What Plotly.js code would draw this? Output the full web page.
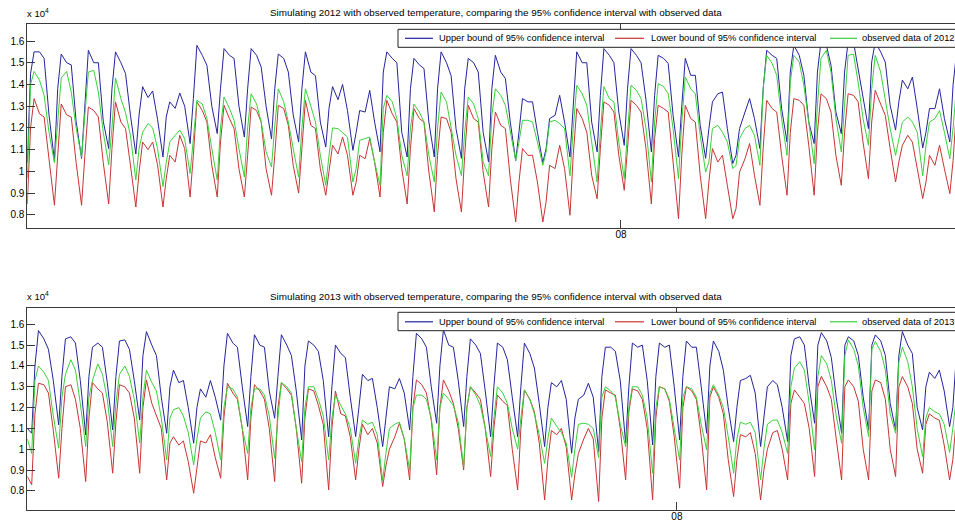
<!DOCTYPE html>
<html><head><meta charset="utf-8">
<script src="https://cdn.plot.ly/plotly-3.0.1.min.js"></script>
<style>html,body{margin:0;padding:0;background:#fff}#chart{width:955px;height:522px}</style>
</head><body><div id="chart"></div>
<script>
// Time in days; each day sampled at these phases (trough at phase 0)
const dayPhases = [0, 0.12, 0.25, 0.45, 0.62, 0.8];
const nDays = 34;
const tail2012 = [34, 34.12, 34.25];
const lead2013 = [-0.163];
const tail2013 = [34, 34.12, 34.25];

// values in units of 10^4
const upper2012 = [
1.04,1.45,1.55,1.55,1.52,1.26,
1.05,1.38,1.54,1.50,1.49,1.23,
1.06,1.30,1.557,1.50,1.50,1.23,
1.105,1.38,1.55,1.50,1.45,1.26,
1.08,1.26,1.39,1.34,1.37,1.24,
1.066,1.25,1.32,1.29,1.36,1.30,
1.128,1.335,1.58,1.534,1.488,1.30,
1.174,1.38,1.565,1.534,1.52,1.30,
1.158,1.38,1.565,1.534,1.48,1.30,
1.15,1.38,1.54,1.52,1.457,1.26,
1.135,1.38,1.55,1.457,1.44,1.227,
1.112,1.29,1.39,1.33,1.40,1.28,
1.097,1.18,1.28,1.273,1.373,1.227,
1.09,1.457,1.55,1.52,1.50,1.18,
1.066,1.38,1.52,1.49,1.473,1.227,
1.066,1.38,1.55,1.50,1.44,1.197,
1.06,1.38,1.52,1.50,1.457,1.18,
1.043,1.38,1.534,1.457,1.427,1.227,
1.05,1.18,1.335,1.32,1.32,1.18,
1.04,1.105,1.243,1.258,1.35,1.227,
1.066,1.30,1.55,1.50,1.50,1.227,
1.09,1.35,1.565,1.534,1.50,1.273,
1.12,1.38,1.565,1.534,1.50,1.33,
1.09,1.35,1.534,1.52,1.497,1.258,
1.066,1.30,1.52,1.442,1.442,1.212,
1.06,1.197,1.32,1.357,1.365,1.197,
1.036,1.074,1.197,1.273,1.335,1.243,
1.105,1.38,1.557,1.534,1.52,1.289,
1.135,1.457,1.58,1.534,1.442,1.227,
1.128,1.457,1.595,1.58,1.488,1.273,
1.174,1.457,1.595,1.595,1.473,1.335,
1.197,1.503,1.595,1.55,1.503,1.304,
1.19,1.32,1.42,1.38,1.434,1.289,
1.108,1.18,1.289,1.289,1.38,1.243,
1.135,1.40,1.55];

const lower2012 = [
0.85,1.20,1.335,1.265,1.25,1.07,
0.844,1.07,1.31,1.26,1.25,1.04,
0.844,1.07,1.296,1.28,1.25,1.04,
0.85,1.105,1.32,1.227,1.197,1.03,
0.836,0.997,1.135,1.10,1.135,1.03,
0.836,0.966,1.074,1.043,1.166,1.105,
0.882,1.074,1.32,1.28,1.227,1.028,
0.882,1.135,1.304,1.243,1.197,1.012,
0.882,1.074,1.296,1.28,1.227,1.012,
0.89,1.074,1.304,1.289,1.212,1.028,
0.90,1.105,1.327,1.212,1.197,1.012,
0.89,1.0,1.12,1.08,1.158,1.074,
0.89,0.951,1.074,1.058,1.151,1.043,
0.882,1.18,1.327,1.265,1.227,1.012,
0.85,1.105,1.289,1.243,1.227,0.997,
0.813,1.074,1.25,1.243,1.18,0.966,
0.813,1.074,1.304,1.243,1.227,0.997,
0.836,1.105,1.273,1.212,1.197,0.966,
0.767,0.951,1.105,1.074,1.074,0.951,
0.767,0.86,1.028,1.013,1.12,1.013,
0.798,1.074,1.289,1.243,1.18,0.982,
0.874,1.105,1.32,1.304,1.273,1.074,
0.913,1.105,1.327,1.304,1.273,1.105,
0.85,1.151,1.304,1.289,1.273,1.043,
0.782,1.074,1.304,1.243,1.227,0.982,
0.782,0.951,1.105,1.043,1.074,0.936,
0.782,0.829,0.997,1.058,1.128,0.982,
0.844,1.105,1.327,1.289,1.273,1.074,
0.89,1.18,1.335,1.327,1.304,1.12,
0.89,1.18,1.357,1.335,1.273,1.074,
0.936,1.18,1.357,1.35,1.32,1.135,
0.966,1.227,1.373,1.31,1.258,1.105,
0.951,1.043,1.12,1.166,1.135,1.012,
0.875,0.951,1.074,1.028,1.12,1.012,
0.898,1.05,1.30];

const observed2012 = [
0.97,1.40,1.46,1.42,1.35,1.18,
1.04,1.23,1.43,1.46,1.365,1.20,
1.066,1.26,1.457,1.465,1.365,1.18,
1.03,1.20,1.43,1.335,1.27,1.166,
0.96,1.105,1.18,1.22,1.20,1.105,
0.93,1.04,1.135,1.166,1.19,1.15,
0.99,1.15,1.327,1.31,1.243,1.105,
0.96,1.20,1.342,1.29,1.235,1.105,
0.974,1.20,1.357,1.31,1.227,1.09,
1.02,1.21,1.38,1.32,1.227,1.105,
0.974,1.20,1.38,1.30,1.227,1.074,
0.936,1.074,1.20,1.197,1.18,1.158,
0.951,1.013,1.143,1.151,1.158,1.043,
0.936,1.29,1.35,1.32,1.243,1.074,
0.98,1.20,1.31,1.273,1.227,1.074,
0.951,1.20,1.365,1.32,1.197,1.074,
0.98,1.18,1.342,1.31,1.243,1.043,
0.98,1.258,1.38,1.35,1.304,1.18,
1.05,1.135,1.235,1.235,1.227,1.135,
1.028,1.09,1.227,1.235,1.22,1.197,
0.98,1.197,1.396,1.357,1.304,1.135,
0.951,1.18,1.39,1.335,1.32,1.135,
0.966,1.18,1.396,1.373,1.335,1.20,
0.951,1.227,1.404,1.39,1.357,1.197,
0.966,1.227,1.434,1.38,1.357,1.166,
0.997,1.043,1.197,1.212,1.18,1.135,
1.013,1.028,1.151,1.197,1.212,1.166,
1.028,1.38,1.534,1.497,1.442,1.243,
1.074,1.41,1.534,1.503,1.396,1.227,
1.036,1.304,1.52,1.557,1.457,1.243,
1.09,1.304,1.534,1.54,1.41,1.243,
1.12,1.38,1.534,1.457,1.335,1.197,
1.074,1.151,1.227,1.25,1.227,1.18,
0.98,1.12,1.227,1.243,1.28,1.18,
1.058,1.20,1.40];

const upper2013 = [1.10,
1.077,1.40,1.57,1.53,1.48,1.33,
1.117,1.35,1.53,1.54,1.51,1.33,
1.069,1.35,1.49,1.51,1.49,1.32,
1.093,1.35,1.52,1.525,1.48,1.33,
1.141,1.45,1.565,1.50,1.45,1.25,
1.077,1.30,1.38,1.32,1.33,1.20,
1.029,1.20,1.29,1.25,1.33,1.25,
1.14,1.40,1.557,1.51,1.49,1.30,
1.109,1.35,1.55,1.50,1.49,1.28,
1.149,1.35,1.55,1.50,1.45,1.28,
1.045,1.40,1.52,1.50,1.47,1.33,
1.06,1.30,1.50,1.46,1.44,1.25,
1.061,1.20,1.36,1.33,1.34,1.20,
1.013,1.15,1.30,1.29,1.34,1.27,
1.093,1.35,1.557,1.53,1.49,1.30,
1.125,1.40,1.573,1.50,1.49,1.33,
1.109,1.35,1.53,1.50,1.46,1.28,
1.06,1.30,1.51,1.49,1.43,1.25,
1.06,1.30,1.51,1.46,1.39,1.22,
1.013,1.20,1.32,1.30,1.33,1.24,
0.981,1.15,1.24,1.26,1.317,1.25,
0.99,1.35,1.49,1.49,1.47,1.33,
1.029,1.30,1.51,1.49,1.50,1.33,
1.021,1.35,1.51,1.49,1.50,1.30,
1.045,1.35,1.52,1.49,1.49,1.30,
1.077,1.40,1.52,1.47,1.38,1.20,
1.037,1.20,1.33,1.34,1.355,1.27,
1.013,1.15,1.30,1.33,1.31,1.20,
1.037,1.45,1.53,1.54,1.50,1.30,
1.125,1.50,1.56,1.52,1.44,1.25,
1.077,1.50,1.54,1.52,1.45,1.25,
1.093,1.50,1.549,1.52,1.45,1.22,
1.093,1.45,1.565,1.50,1.46,1.20,
1.093,1.30,1.37,1.34,1.38,1.28,
1.109,1.20,1.45];

const lower2013 = [0.87,
0.83,1.17,1.317,1.31,1.27,1.09,
0.861,1.10,1.30,1.31,1.24,1.10,
0.845,1.15,1.32,1.29,1.27,1.13,
0.885,1.13,1.31,1.30,1.27,1.15,
0.885,1.20,1.333,1.22,1.16,1.10,
0.853,1.03,1.06,1.02,1.04,0.94,
0.789,0.92,1.04,1.03,1.07,0.96,
0.861,1.15,1.317,1.27,1.24,1.10,
0.853,1.15,1.31,1.28,1.24,1.10,
0.845,1.20,1.32,1.29,1.26,1.10,
0.837,1.15,1.29,1.28,1.21,1.12,
0.805,1.10,1.28,1.17,1.16,1.06,
0.853,1.0,1.12,1.07,1.10,1.03,
0.821,0.92,1.0,1.06,1.125,1.05,
0.853,1.20,1.333,1.31,1.27,1.14,
0.877,1.20,1.333,1.28,1.22,1.10,
0.901,1.20,1.30,1.27,1.24,1.10,
0.869,1.10,1.26,1.23,1.21,1.0,
0.805,1.10,1.285,1.24,1.18,1.03,
0.757,0.95,1.09,1.07,1.10,1.01,
0.757,0.88,0.98,1.05,1.10,1.05,
0.749,1.15,1.285,1.27,1.26,1.10,
0.853,1.18,1.29,1.28,1.24,1.10,
0.757,1.15,1.30,1.29,1.23,1.06,
0.813,1.20,1.30,1.28,1.24,1.06,
0.805,1.25,1.30,1.25,1.17,0.95,
0.773,0.95,1.07,1.06,1.08,0.98,
0.757,0.90,1.0,1.08,1.09,1.0,
0.853,1.22,1.285,1.25,1.22,1.10,
0.869,1.30,1.35,1.30,1.24,1.05,
0.853,1.30,1.333,1.30,1.23,1.0,
0.853,1.28,1.333,1.32,1.24,1.0,
0.869,1.30,1.349,1.30,1.22,1.0,
0.885,1.12,1.17,1.15,1.14,1.02,
0.853,0.95,1.15];

const observed2013 = [1.05,
0.98,1.33,1.40,1.37,1.33,1.16,
1.005,1.25,1.36,1.43,1.38,1.22,
1.013,1.25,1.33,1.41,1.36,1.24,
1.013,1.22,1.36,1.40,1.35,1.24,
1.03,1.25,1.38,1.32,1.28,1.15,
0.949,1.15,1.19,1.20,1.16,1.08,
0.925,1.05,1.15,1.18,1.17,1.08,
0.949,1.20,1.30,1.29,1.25,1.10,
0.98,1.20,1.29,1.29,1.26,1.16,
0.957,1.15,1.32,1.30,1.27,1.10,
0.94,1.20,1.30,1.30,1.24,1.16,
0.949,1.15,1.26,1.21,1.17,1.10,
0.933,1.05,1.14,1.12,1.13,1.07,
0.85,0.98,1.10,1.12,1.13,1.05,
0.90,1.20,1.26,1.26,1.24,1.15,
0.949,1.20,1.27,1.24,1.21,1.13,
0.917,1.20,1.30,1.26,1.21,1.10,
0.965,1.15,1.30,1.27,1.22,1.10,
1.0,1.15,1.285,1.24,1.17,1.07,
0.933,1.05,1.15,1.11,1.08,1.03,
0.865,1.0,1.12,1.125,1.12,1.10,
0.96,1.25,1.30,1.28,1.25,1.12,
1.013,1.20,1.30,1.30,1.26,1.15,
0.885,1.20,1.30,1.29,1.24,1.10,
0.949,1.25,1.30,1.29,1.25,1.12,
0.997,1.27,1.31,1.26,1.20,1.06,
0.885,1.05,1.13,1.12,1.13,1.08,
0.853,1.0,1.12,1.14,1.14,1.08,
0.98,1.30,1.39,1.42,1.38,1.22,
0.997,1.35,1.45,1.41,1.33,1.16,
1.029,1.45,1.525,1.48,1.40,1.20,
1.061,1.48,1.517,1.47,1.38,1.17,
1.077,1.42,1.49,1.42,1.30,1.10,
0.965,1.15,1.20,1.18,1.17,1.12,
0.985,1.10,1.25];

const yTickVals = [0.8, 0.9, 1.0, 1.1, 1.2, 1.3, 1.4, 1.5, 1.6];
const yTickText = ['0.8', '0.9', '1', '1.1', '1.2', '1.3', '1.4', '1.5', '1.6'];
const xTickText = ['08'];
const xTick2012 = [21.88];
const xTick2013 = [23.9];
const names2012 = ['Upper bound of 95% confidence interval', 'Lower bound of 95% confidence interval', 'observed data of 2012'];
const names2013 = ['Upper bound of 95% confidence interval', 'Lower bound of 95% confidence interval', 'observed data of 2013'];
const title2012 = 'Simulating 2012 with observed temperature, comparing the 95% confidence interval with observed data';
const title2013 = 'Simulating 2013 with observed temperature, comparing the 95% confidence interval with observed data';

function dayTimes(lead, tail) {
  const t = lead.slice();
  for (let d = 0; d < nDays; d++) dayPhases.forEach(p => t.push(d + p));
  return t.concat(tail);
}
const t2012 = dayTimes([], tail2012);
const t2013 = dayTimes(lead2013, tail2013);

const COLORS = ['#24249c', '#c83434', '#3bd03b'];
const FONT = 'Liberation Sans, Arial, sans-serif';
const W = 955, H = 522;
const px = v => v / W, py = v => 1 - v / H;

function tr(x, y, name, color, xa, ya) {
  return {x: x, y: y, name: name, type: 'scatter', mode: 'lines', xaxis: xa, yaxis: ya,
    showlegend: false, line: {color: color, width: 1}, hoverinfo: 'skip'};
}
const data = [
  tr(t2012, upper2012, names2012[0], COLORS[0], 'x', 'y'),
  tr(t2012, lower2012, names2012[1], COLORS[1], 'x', 'y'),
  tr(t2012, observed2012, names2012[2], COLORS[2], 'x', 'y'),
  tr(t2013, upper2013, names2013[0], COLORS[0], 'x2', 'y2'),
  tr(t2013, lower2013, names2013[1], COLORS[1], 'x2', 'y2'),
  tr(t2013, observed2013, names2013[2], COLORS[2], 'x2', 'y2')
];

const axLine = '#3a3a3a';
function xax(range, tv) {
  return {domain: [px(27.3), 1], range: range, showline: true, linecolor: axLine, linewidth: 1,
    mirror: 'ticks', ticks: 'inside', ticklen: 8, tickcolor: axLine, tickvals: tv, ticktext: xTickText,
    ticklabelstandoff: -3, automargin: false,
    showgrid: false, zeroline: false, tickfont: {size: 10, color: '#000'}, fixedrange: true};
}
function yax(range, dom, anchor) {
  return {domain: dom, range: range, anchor: anchor, showline: true, linecolor: axLine, linewidth: 1,
    mirror: false, ticks: 'inside', ticklen: 8, tickcolor: axLine, tickvals: yTickVals, ticktext: yTickText,
    automargin: false,
    showgrid: false, zeroline: false, tickfont: {size: 10, color: '#000'}, fixedrange: true};
}

// Legend boxes drawn in figure pixels (legend sits over the lines, like the original)
const legLineX = [[405, 433], [615, 644], [830, 857]];
const legTextX = [438, 650, 860.5];
const shapes = [], annotations = [];
function addLegend(top, bottom, lineY, names) {
  const mid = (top + bottom) / 2;
  shapes.push({type: 'rect', xref: 'paper', yref: 'paper', x0: px(398), x1: px(975), y0: py(bottom), y1: py(top),
    fillcolor: '#fff', line: {color: '#222', width: 1}, layer: 'above'});
  names.forEach((nm, i) => {
    shapes.push({type: 'line', xref: 'paper', yref: 'paper', x0: px(legLineX[i][0]), x1: px(legLineX[i][1]),
      y0: py(lineY), y1: py(lineY), line: {color: COLORS[i], width: 1.2}, layer: 'above'});
    annotations.push({text: nm, xref: 'paper', yref: 'paper', x: px(legTextX[i]), y: py(mid),
      xanchor: 'left', yanchor: 'middle', showarrow: false, font: {size: 9.3}, borderpad: 0});
  });
}
addLegend(29.3, 47.3, 38.3, names2012);
addLegend(312.3, 330.7, 321.8, names2013);

annotations.push(
  {text: title2012, xref: 'paper', yref: 'paper', x: px(495.5), y: py(12.5), xanchor: 'center', yanchor: 'middle', showarrow: false, font: {size: 9.9}},
  {text: title2013, xref: 'paper', yref: 'paper', x: px(495.5), y: py(296), xanchor: 'center', yanchor: 'middle', showarrow: false, font: {size: 9.9}},
  {text: 'x 10<sup>4</sup>', xref: 'paper', yref: 'paper', x: px(25), y: py(13), xanchor: 'left', yanchor: 'middle', showarrow: false, font: {size: 9.5}},
  {text: 'x 10<sup>4</sup>', xref: 'paper', yref: 'paper', x: px(25), y: py(296), xanchor: 'left', yanchor: 'middle', showarrow: false, font: {size: 9.5}}
);

const layout = {
  width: W, height: H, margin: {l: 0, r: 0, t: 0, b: 0, autoexpand: false}, paper_bgcolor: '#fff', plot_bgcolor: '#fff',
  font: {family: FONT, size: 10, color: '#000'}, showlegend: false,
  xaxis: Object.assign(xax([0, 34.19], xTick2012), {anchor: 'y'}),
  yaxis: yax([0.7395, 1.6796], [py(228), py(23.7)], 'x'),
  xaxis2: Object.assign(xax([-0.163, 34.2], xTick2013), {anchor: 'y2'}),
  yaxis2: yax([0.7085, 1.6797], [py(510), py(307.7)], 'x2'),
  shapes: shapes,
  annotations: annotations
};
Plotly.newPlot('chart', data, layout, {displayModeBar: false, staticPlot: true});
</script></body></html>
